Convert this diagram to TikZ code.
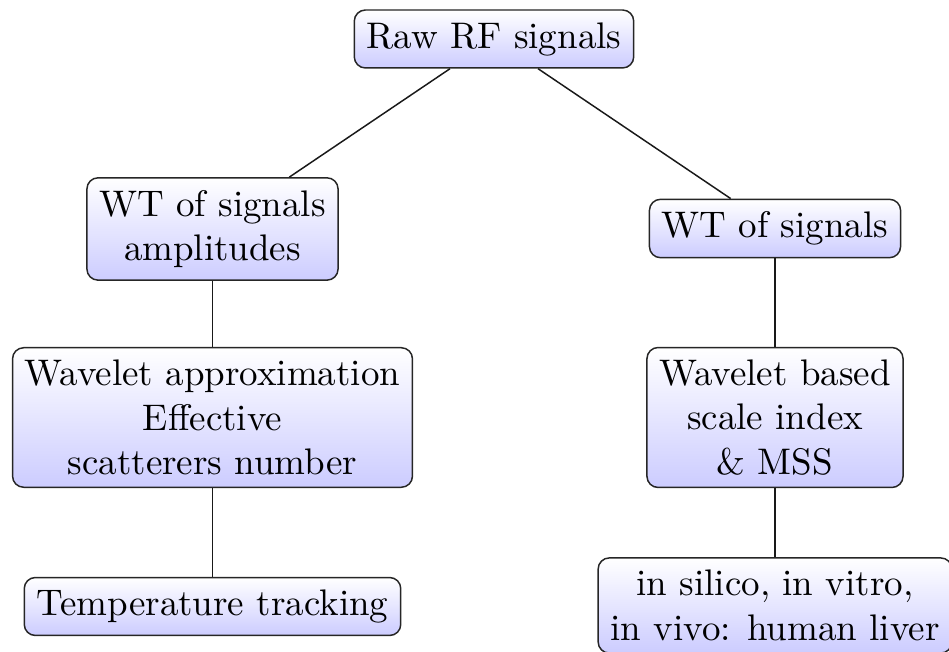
\documentclass[tikz,border=0pt]{standalone}
\usetikzlibrary{shadows}
\begin{document}
\begin{tikzpicture}[x=0.2703pt, y=-0.2703pt,
  box/.style={draw=black!85, rounded corners=3pt, align=center,
    top color=white, bottom color=blue!20, inner sep=0.3333em},
  link/.style={draw=black!90, line width=0.4pt}]
  \useasboundingbox (0,0) rectangle (949,652);
  % root
  \node[box] (raw) at (494,39) {Raw RF signals};
  % left branch
  \node[box] (wtamp) at (212.5,229) {WT of signals\\amplitudes};
  \node[box] (approx) at (212.5,417.5) {Wavelet approximation\\Effective\\scatterers number};
  \node[box] (temp) at (212.5,606.5) {Temperature tracking};
  % right branch
  \node[box] (wt) at (775,228.5) {WT of signals};
  \node[box] (scale) at (775,417.5) {Wavelet based\\scale index\\\& MSS};
  \node[box] (liver) at (775,605.5) {in silico, in vitro,\\in vivo: human liver};
  % connectors
  \draw[link] (raw) -- (wtamp);
  \draw[link] (raw) -- (wt);
  \draw[link] (wtamp) -- (approx);
  \draw[link] (approx) -- (temp);
  \draw[link] (wt) -- (scale);
  \draw[link] (scale) -- (liver);
\end{tikzpicture}
\end{document}
